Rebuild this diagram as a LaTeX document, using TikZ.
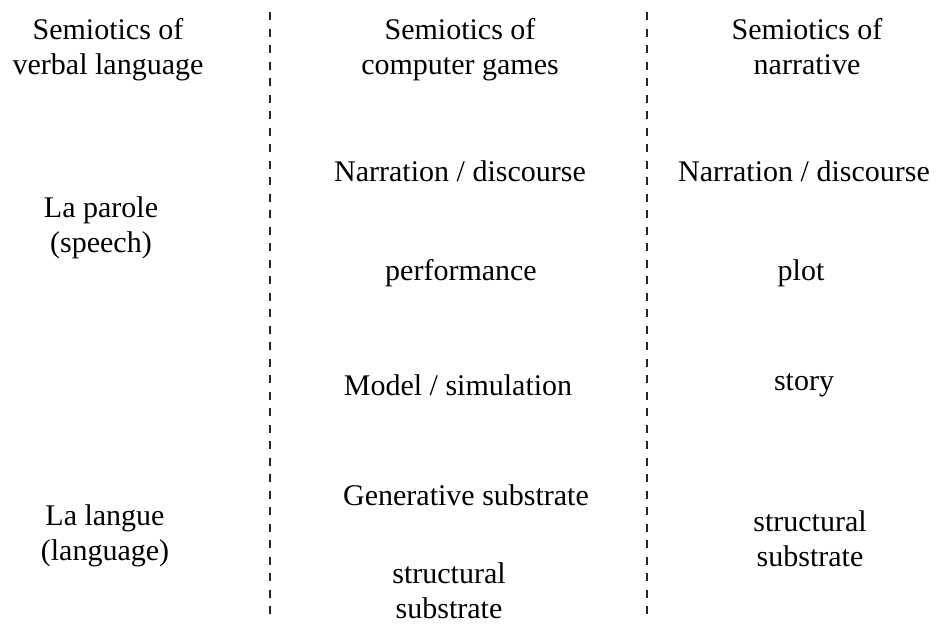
\documentclass[tikz,border=0pt]{standalone}
\usepackage{fontspec}
\setmainfont{Liberation Serif}
\begin{document}
\begin{tikzpicture}[x=1pt,y=-1pt,
  lbl/.style={align=center,inner sep=0pt,anchor=base,font=\fontsize{30}{35}\selectfont},
  sep/.style={line width=2.4pt,dash pattern=on 8pt off 8.5pt,black!85}]
\useasboundingbox (0,0) rectangle (937,624);
\node[lbl] (h1) at (108,74) {Semiotics of\\verbal language};
\node[lbl] (h2) at (460,74) {Semiotics of\\computer games};
\node[lbl] (h3) at (807,74) {Semiotics of\\narrative};
\node[lbl] (parole) at (101,252) {La parole\\(speech)};
\node[lbl] (langue) at (105,560) {La langue\\(language)};
\node[lbl] (g1) at (460,181) {Narration / discourse};
\node[lbl] (g2) at (461,280) {performance};
\node[lbl] (g3) at (458,395) {Model / simulation};
\node[lbl] (g4) at (466,505) {Generative substrate};
\node[lbl] (g5) at (449,618) {structural\\substrate};
\node[lbl] (n1) at (804,181) {Narration / discourse};
\node[lbl] (n2) at (801,280) {plot};
\node[lbl] (n3) at (804,390) {story};
\node[lbl] (n4) at (810,566) {structural\\substrate};
\coordinate (a1) at (270,12);
\coordinate (a2) at (270,614);
\coordinate (b1) at (647,12);
\coordinate (b2) at (647,614);
\draw[sep] (a1) -- (a2);
\draw[sep] (b1) -- (b2);
\end{tikzpicture}
\end{document}
